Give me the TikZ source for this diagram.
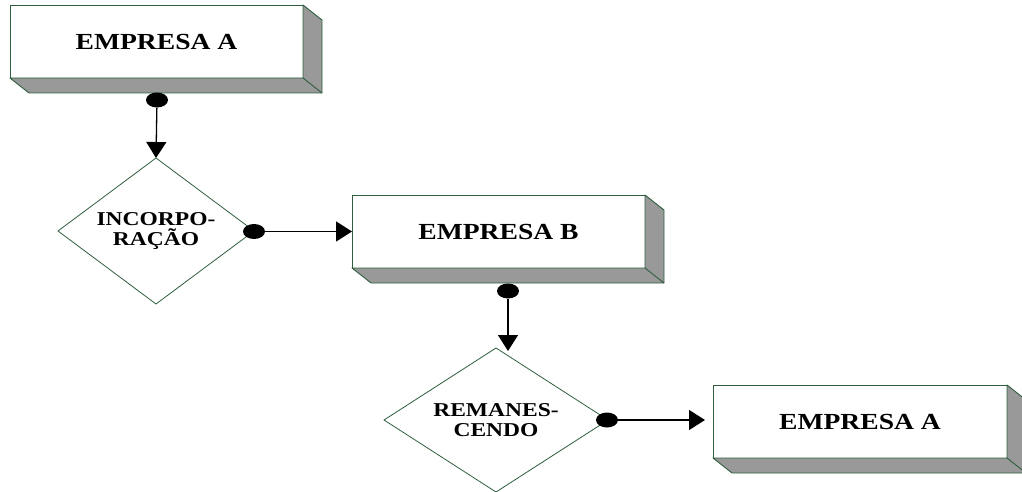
\documentclass[tikz,border=0pt]{standalone}
\usepackage{fontspec}
\usetikzlibrary{arrows.meta,shapes.geometric}
\newfontfamily\boxfont{Liberation Serif}[FakeStretch=1.2]
\definecolor{edgegreen}{HTML}{2E5E3E}
\definecolor{sidegray}{HTML}{999999}
\tikzset{
  frontbox/.style={draw=edgegreen, line width=0.9pt, fill=white, rectangle,
    minimum width=293pt, minimum height=73pt, inner sep=0pt, outer sep=0pt,
    font=\boxfont\bfseries\fontsize{23}{27}\selectfont},
  sideface/.style={fill=sidegray, draw=edgegreen, line width=0.9pt, line join=round},
  decision/.style={draw=edgegreen, line width=0.8pt, shape=diamond, aspect=1.3,
    inner sep=0pt, outer sep=0pt, align=center,
    font=\boxfont\bfseries\fontsize{19.6}{20.5}\selectfont},
  blackdot/.style={ellipse, fill=black, minimum width=22pt, minimum height=15pt, inner sep=0pt},
  link/.style={line width=1.3pt, -{Triangle[length=16pt,width=20pt]}}
}
\newcommand{\boxsides}[1]{%
  \path[sideface] (#1.south west) -- ([shift={(19,15)}]#1.south west)
    -- ([shift={(19,15)}]#1.south east) -- ([shift={(19,15)}]#1.north east)
    -- (#1.north east) -- (#1.south east) -- cycle;
  \draw[edgegreen, line width=0.9pt] (#1.south east) -- ([shift={(19,15)}]#1.south east);
}
\begin{document}
\begin{tikzpicture}[x=1pt, y=-1pt]
\useasboundingbox (0,0) rectangle (1022,492);
% boxes
\node[frontbox] (bA) at (156.5,41.5) {EMPRESA A};
\boxsides{bA}
\node[frontbox] (bB) at (498.5,231.5) {EMPRESA B};
\boxsides{bB}
\node[frontbox, minimum width=294pt] (bC) at (860,421.5) {EMPRESA A};
\boxsides{bC}
% decisions
\node[decision, minimum width=196pt, minimum height=146pt] (d1) at (156,231) {INCORPO-\\RAÇÃO};
\node[decision, minimum width=224pt, minimum height=144pt] (d2) at (496,420) {REMANES-\\CENDO};
% dots
\node[blackdot] (dot1) at (157,100) {};
\node[blackdot] (dot2) at (254,231.5) {};
\node[blackdot] (dot3) at (508,291) {};
\node[blackdot] (dot4) at (607,420) {};
\coordinate (e3) at (508,351);
\coordinate (e4) at (705,420);
% connectors
\draw[link] (dot1) -- (d1.north);
\draw[link] (dot2) -- (bB.west);
\draw[link] (dot3) -- (e3);
\draw[link] (dot4) -- (e4);
\end{tikzpicture}
\end{document}
